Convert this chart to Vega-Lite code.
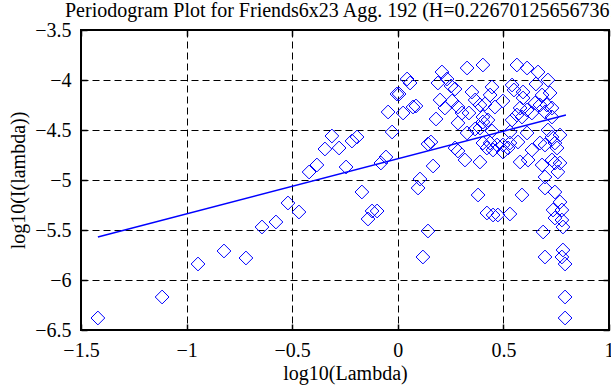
{
  "$schema": "https://vega.github.io/schema/vega-lite/v6.json",
  "width": 528,
  "height": 300,
  "autosize": "none",
  "padding": {"left": 81, "top": 30, "right": 2, "bottom": 55},
  "background": "white",
  "title": {
    "text": "Periodogram Plot for Friends6x23 Agg. 192 (H=0.226701256567361)",
    "anchor": "start",
    "frame": "group",
    "dx": -16,
    "dy": 6,
    "offset": 5,
    "font": "Liberation Serif",
    "fontSize": 20,
    "fontWeight": "normal",
    "color": "black"
  },
  "config": {
    "view": {"stroke": "black", "strokeWidth": 2},
    "axis": {
      "labelFont": "Liberation Serif",
      "titleFont": "Liberation Serif",
      "labelFontSize": 20,
      "titleFontSize": 20,
      "titleFontWeight": "normal",
      "labelColor": "black",
      "titleColor": "black",
      "domain": false,
      "tickColor": "black",
      "tickWidth": 1.5,
      "tickSize": -6,
      "gridColor": "black",
      "gridDash": [7, 4],
      "gridWidth": 1,
      "gridOpacity": 1,
      "labelFlush": false,
      "labelOverlap": false
    }
  },
  "datasets": {
    "pts": [
      {"x": -1.42, "y": -6.38}, {"x": -1.116, "y": -6.17}, {"x": -0.946, "y": -5.84}, {"x": -0.823, "y": -5.71},
      {"x": -0.719, "y": -5.78}, {"x": -0.643, "y": -5.47}, {"x": -0.577, "y": -5.42}, {"x": -0.52, "y": -5.23},
      {"x": -0.468, "y": -5.32}, {"x": -0.42, "y": -4.92}, {"x": -0.383, "y": -4.85}, {"x": -0.345, "y": -4.69},
      {"x": -0.312, "y": -4.56}, {"x": -0.278, "y": -4.68}, {"x": -0.217, "y": -4.61}, {"x": -0.193, "y": -4.57},
      {"x": -0.245, "y": -4.87}, {"x": -0.17, "y": -5.12}, {"x": -0.141, "y": -5.39}, {"x": -0.122, "y": -5.31},
      {"x": -0.098, "y": -5.31}, {"x": -0.08, "y": -4.83}, {"x": -0.056, "y": -4.77}, {"x": -0.046, "y": -4.32},
      {"x": -0.027, "y": -4.52}, {"x": -0.004, "y": -4.14}, {"x": 0.044, "y": -3.99}, {"x": 0.058, "y": -4.03},
      {"x": 0.025, "y": -4.33}, {"x": 0.072, "y": -4.27}, {"x": 0.086, "y": -4.26}, {"x": 0.143, "y": -4.64},
      {"x": 0.157, "y": -4.62}, {"x": 0.167, "y": -4.86}, {"x": 0.105, "y": -4.99}, {"x": 0.096, "y": -5.08},
      {"x": 0.143, "y": -5.51}, {"x": 0.119, "y": -5.77}, {"x": 0.209, "y": -3.92}, {"x": 0.19, "y": -4.03},
      {"x": 0.233, "y": -3.99}, {"x": 0.252, "y": -4.06}, {"x": 0.271, "y": -4.09}, {"x": 0.2, "y": -4.2},
      {"x": 0.223, "y": -4.28}, {"x": 0.181, "y": -4.39}, {"x": 0.257, "y": -4.21}, {"x": 0.285, "y": -4.27},
      {"x": 0.285, "y": -4.43}, {"x": 0.304, "y": -4.33}, {"x": 0.328, "y": -3.88}, {"x": 0.403, "y": -3.85},
      {"x": 0.351, "y": -4.12}, {"x": 0.366, "y": -4.2}, {"x": 0.337, "y": -4.33}, {"x": 0.389, "y": -4.25},
      {"x": 0.328, "y": -4.53}, {"x": 0.366, "y": -4.49}, {"x": 0.403, "y": -4.42}, {"x": 0.271, "y": -4.68},
      {"x": 0.285, "y": -4.71}, {"x": 0.318, "y": -4.8}, {"x": 0.389, "y": -4.82}, {"x": 0.403, "y": -4.63},
      {"x": 0.38, "y": -5.15}, {"x": 0.422, "y": -5.33}, {"x": 0.564, "y": -3.85}, {"x": 0.612, "y": -3.88},
      {"x": 0.664, "y": -3.92}, {"x": 0.654, "y": -4.04}, {"x": 0.711, "y": -4.0}, {"x": 0.446, "y": -4.07},
      {"x": 0.541, "y": -4.05}, {"x": 0.55, "y": -4.1}, {"x": 0.437, "y": -4.15}, {"x": 0.498, "y": -4.21},
      {"x": 0.593, "y": -4.12}, {"x": 0.593, "y": -4.18}, {"x": 0.683, "y": -4.15}, {"x": 0.721, "y": -4.13},
      {"x": 0.65, "y": -4.23}, {"x": 0.673, "y": -4.25}, {"x": 0.706, "y": -4.25}, {"x": 0.73, "y": -4.28},
      {"x": 0.413, "y": -4.24}, {"x": 0.46, "y": -4.27}, {"x": 0.579, "y": -4.28}, {"x": 0.612, "y": -4.3},
      {"x": 0.564, "y": -4.35}, {"x": 0.427, "y": -4.4}, {"x": 0.541, "y": -4.4}, {"x": 0.588, "y": -4.37},
      {"x": 0.635, "y": -4.33}, {"x": 0.697, "y": -4.32}, {"x": 0.73, "y": -4.37}, {"x": 0.446, "y": -4.51},
      {"x": 0.531, "y": -4.52}, {"x": 0.612, "y": -4.53}, {"x": 0.711, "y": -4.5}, {"x": 0.73, "y": -4.57},
      {"x": 0.768, "y": -4.55}, {"x": 0.437, "y": -4.63}, {"x": 0.47, "y": -4.65}, {"x": 0.498, "y": -4.65},
      {"x": 0.531, "y": -4.63}, {"x": 0.569, "y": -4.62}, {"x": 0.635, "y": -4.7}, {"x": 0.673, "y": -4.63},
      {"x": 0.697, "y": -4.65}, {"x": 0.744, "y": -4.63}, {"x": 0.754, "y": -4.68}, {"x": 0.422, "y": -4.68},
      {"x": 0.451, "y": -4.7}, {"x": 0.498, "y": -4.72}, {"x": 0.522, "y": -4.68}, {"x": 0.579, "y": -4.82},
      {"x": 0.617, "y": -4.8}, {"x": 0.683, "y": -4.85}, {"x": 0.73, "y": -4.8}, {"x": 0.744, "y": -4.83},
      {"x": 0.768, "y": -4.83}, {"x": 0.758, "y": -4.92}, {"x": 0.697, "y": -4.97}, {"x": 0.697, "y": -5.08},
      {"x": 0.744, "y": -5.12}, {"x": 0.588, "y": -5.15}, {"x": 0.768, "y": -5.22}, {"x": 0.735, "y": -5.3},
      {"x": 0.777, "y": -5.3}, {"x": 0.744, "y": -5.38}, {"x": 0.777, "y": -5.4}, {"x": 0.782, "y": -5.47},
      {"x": 0.451, "y": -5.35}, {"x": 0.474, "y": -5.35}, {"x": 0.531, "y": -5.34}, {"x": 0.688, "y": -5.52},
      {"x": 0.697, "y": -5.77}, {"x": 0.782, "y": -5.7}, {"x": 0.777, "y": -5.77}, {"x": 0.792, "y": -5.84},
      {"x": 0.792, "y": -6.17}, {"x": 0.792, "y": -6.38}, {"x": 0.403, "y": -4.37}, {"x": 0.389, "y": -4.48},
      {"x": 0.006, "y": -4.14}
    ],
    "fit": [
      {"x": -1.42, "y": -5.57},
      {"x": 0.796, "y": -4.35}
    ]
  },
  "layer": [
    {
      "data": {"name": "pts"},
      "mark": {"type": "point", "shape": "diamond", "filled": false, "color": "#0000ff", "strokeWidth": 1, "size": 190, "opacity": 1},
      "encoding": {
        "x": {
          "field": "x", "type": "quantitative",
          "scale": {"domain": [-1.5, 1], "nice": false, "zero": false},
          "axis": {"orient": "bottom", "values": [-1.5, -1, -0.5, 0, 0.5, 1], "format": "~g", "title": "log10(Lambda)", "labelPadding": 16, "titlePadding": 3, "grid": true}
        },
        "y": {
          "field": "y", "type": "quantitative",
          "scale": {"domain": [-6.5, -3.5], "nice": false, "zero": false},
          "axis": {"orient": "left", "values": [-6.5, -6, -5.5, -5, -4.5, -4, -3.5], "format": "~g", "title": "log10(I(lambda))", "labelPadding": 16, "titlePadding": 6, "grid": true}
        }
      }
    },
    {
      "data": {"name": "fit"},
      "mark": {"type": "line", "color": "#0000ff", "strokeWidth": 1.5},
      "encoding": {
        "x": {
          "field": "x", "type": "quantitative",
          "scale": {"domain": [-1.5, 1], "nice": false, "zero": false},
          "axis": {"orient": "top", "values": [-1.5, -1, -0.5, 0, 0.5, 1], "labels": false, "title": null, "grid": false}
        },
        "y": {
          "field": "y", "type": "quantitative",
          "scale": {"domain": [-6.5, -3.5], "nice": false, "zero": false},
          "axis": {"orient": "right", "values": [-6.5, -6, -5.5, -5, -4.5, -4, -3.5], "labels": false, "title": null, "grid": false}
        }
      }
    }
  ],
  "resolve": {"axis": {"x": "independent", "y": "independent"}}
}
